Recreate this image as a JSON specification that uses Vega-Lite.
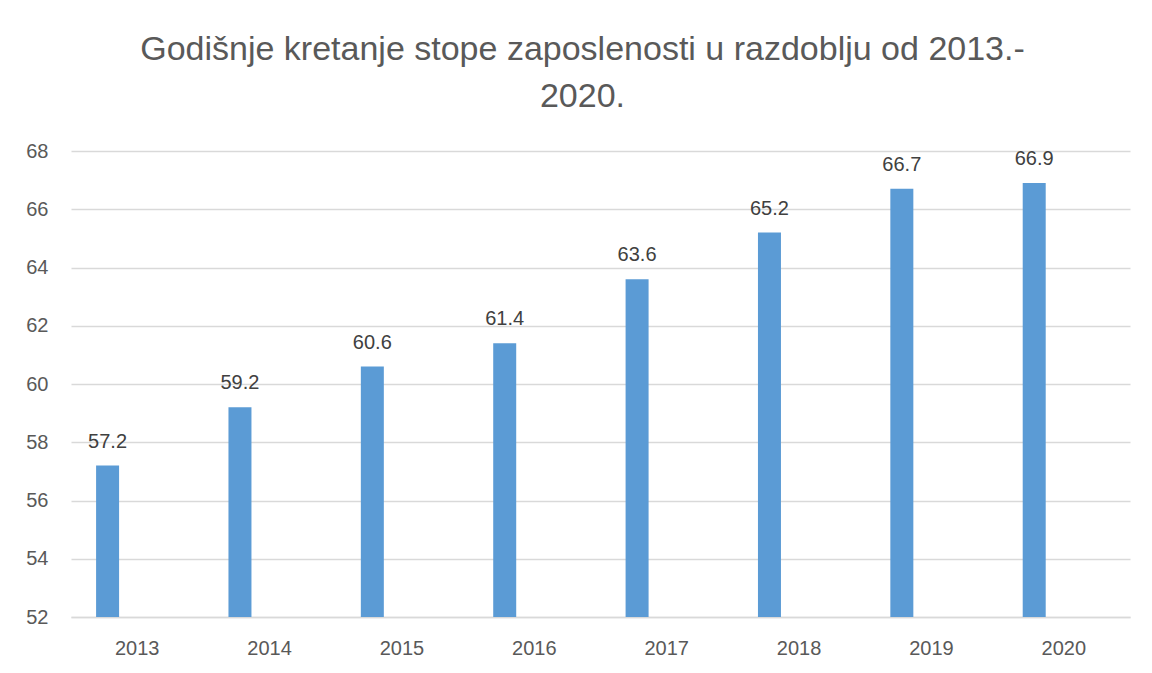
{
  "$schema": "https://vega.github.io/schema/vega-lite/v6.json",
  "autosize": "none",
  "width": 1059,
  "height": 466,
  "padding": {"left": 71, "top": 151, "right": 22, "bottom": 56},
  "background": "white",
  "title": {
    "text": ["Godišnje kretanje stope zaposlenosti u razdoblju od 2013.-", "2020."],
    "font": "Liberation Sans",
    "fontSize": 34,
    "fontWeight": "normal",
    "color": "#595959",
    "lineHeight": 47,
    "anchor": "middle",
    "dx": -18,
    "offset": 27
  },
  "data": {
    "values": [
      {"year": "2013", "rate": 57.2},
      {"year": "2014", "rate": 59.2},
      {"year": "2015", "rate": 60.6},
      {"year": "2016", "rate": 61.4},
      {"year": "2017", "rate": 63.6},
      {"year": "2018", "rate": 65.2},
      {"year": "2019", "rate": 66.7},
      {"year": "2020", "rate": 66.9}
    ]
  },
  "config": {
    "view": {"stroke": null},
    "font": "Liberation Sans",
    "axis": {
      "labelFont": "Liberation Sans",
      "labelFontSize": 20,
      "labelColor": "#595959",
      "gridColor": "#d9d9d9",
      "gridWidth": 1.3,
      "domainColor": "#d9d9d9",
      "domainWidth": 1.3,
      "ticks": false,
      "tickSize": 0,
      "title": null
    }
  },
  "encoding": {
    "x": {
      "field": "year",
      "type": "nominal",
      "scale": {"paddingInner": 0, "paddingOuter": 0},
      "axis": {"labelAngle": 0, "labelPadding": 21, "grid": false, "domain": true}
    },
    "y": {
      "field": "rate",
      "type": "quantitative",
      "scale": {"domain": [52, 68], "nice": false, "zero": false},
      "axis": {"values": [52, 54, 56, 58, 60, 62, 64, 66, 68], "labelPadding": 23, "domain": false, "grid": true}
    }
  },
  "layer": [
    {
      "mark": {"type": "bar", "width": 23, "xOffset": -29.6, "color": "#5b9bd5"},
      "encoding": {"y2": {"datum": 52}}
    },
    {
      "mark": {"type": "text", "xOffset": -29.6, "baseline": "alphabetic", "dy": -18, "fontSize": 20, "color": "#404040", "font": "Liberation Sans"},
      "encoding": {"text": {"field": "rate", "type": "quantitative", "format": ".1f"}}
    }
  ]
}
